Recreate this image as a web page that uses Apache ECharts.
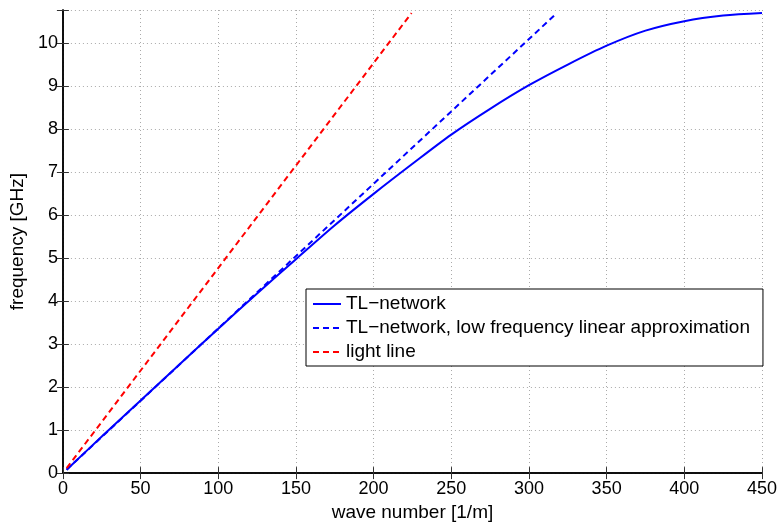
<!DOCTYPE html>
<html>
<head>
<meta charset="utf-8">
<script src="https://cdn.jsdelivr.net/npm/echarts@6/dist/echarts.min.js"></script>
<style>
html,body{margin:0;padding:0;background:#fff;}
#c{width:780px;height:527px;}
</style>
</head>
<body>
<div id="c"></div>
<script>
// wave number [1/m] and frequency [GHz]
var tlK = [2.4, 25, 50, 75, 100, 125, 150, 175, 200, 225, 250, 275, 300, 325, 350, 375, 400, 425, 450];
var tlF = [0.08, 0.85, 1.69, 2.53, 3.36, 4.18, 4.98, 5.77, 6.5, 7.2, 7.88, 8.48, 9.03, 9.51, 9.95, 10.3, 10.52, 10.65, 10.71];
var approxK = [2.4, 318];
var approxF = [0.08, 10.71];
var lightK = [2.4, 224.4];
var lightF = [0.115, 10.71];
var xTicks = [0, 50, 100, 150, 200, 250, 300, 350, 400, 450];
var yTicks = [0, 1, 2, 3, 4, 5, 6, 7, 8, 9, 10];
var names = ['TL\u2212network', 'TL\u2212network, low frequency linear approximation', 'light line'];

function pairs(xs, ys) { return xs.map(function (x, i) { return [x, ys[i]]; }); }

var font = 'Liberation Sans, Arial, Helvetica, sans-serif';
var chart = echarts.init(document.getElementById('c'), null, {renderer: 'canvas'});
var axisLine = {show: true, lineStyle: {color: '#000', width: 1.5}};
var tick = {show: true, inside: true, length: 6, lineStyle: {color: '#333', width: 1}};
var grid = {show: true, lineStyle: {color: '#aaa', type: [1, 3], width: 1}};
var yLabel = function (v) { return yTicks.indexOf(v) >= 0 ? String(v) : ''; };

chart.setOption({
  animation: false,
  backgroundColor: '#fff',
  grid: {left: 58, right: 17.4, top: 10, bottom: 46},
  legend: {
    orient: 'vertical', left: 306, top: 289,
    data: names,
    itemWidth: 28, itemHeight: 14, itemGap: 4,
    padding: [5, 13, 4, 6],
    itemStyle: {opacity: 0},
    backgroundColor: '#fff', borderColor: '#000', borderWidth: 1,
    textStyle: {fontFamily: font, fontSize: 19, lineHeight: 20, color: '#000'}
  },
  xAxis: [{
    type: 'value', min: xTicks[0], max: xTicks[xTicks.length - 1], interval: 50,
    name: 'wave number [1/m]', nameLocation: 'middle', nameGap: 24,
    nameTextStyle: {fontFamily: font, fontSize: 19, color: '#000'},
    axisLine: axisLine, axisTick: tick, splitLine: grid,
    axisLabel: {fontFamily: font, fontSize: 18, color: '#000', margin: 7}
  }, {
    type: 'value', position: 'top', min: xTicks[0], max: xTicks[xTicks.length - 1], interval: 50,
    axisLine: axisLine, axisTick: tick, splitLine: {show: false}, axisLabel: {show: false}
  }],
  yAxis: [{
    type: 'value', min: 0, max: 10.78, interval: 1,
    name: 'frequency [GHz]', nameLocation: 'middle', nameGap: 28,
    nameTextStyle: {fontFamily: font, fontSize: 19, color: '#000'},
    axisLine: axisLine, axisTick: tick, splitLine: grid,
    axisLabel: {fontFamily: font, fontSize: 18, color: '#000', margin: 5, formatter: yLabel}
  }, {
    type: 'value', position: 'right', min: 0, max: 10.78, interval: 1,
    axisLine: axisLine, axisTick: tick, splitLine: {show: false}, axisLabel: {show: false}
  }],
  series: [{
    name: names[0], type: 'line', xAxisIndex: 0, yAxisIndex: 0,
    data: pairs(tlK, tlF), symbol: 'none', smooth: 0.3,
    lineStyle: {color: '#0000ff', width: 2}, itemStyle: {color: '#0000ff'}, z: 3
  }, {
    name: names[1], type: 'line', xAxisIndex: 0, yAxisIndex: 0,
    data: pairs(approxK, approxF), symbol: 'none',
    lineStyle: {color: '#0000ff', width: 2, type: [6, 4]}, itemStyle: {color: '#0000ff'}
  }, {
    name: names[2], type: 'line', xAxisIndex: 0, yAxisIndex: 0,
    data: pairs(lightK, lightF), symbol: 'none',
    lineStyle: {color: '#ff0000', width: 2, type: [6, 4]}, itemStyle: {color: '#ff0000'}
  }]
});
</script>
</body>
</html>
